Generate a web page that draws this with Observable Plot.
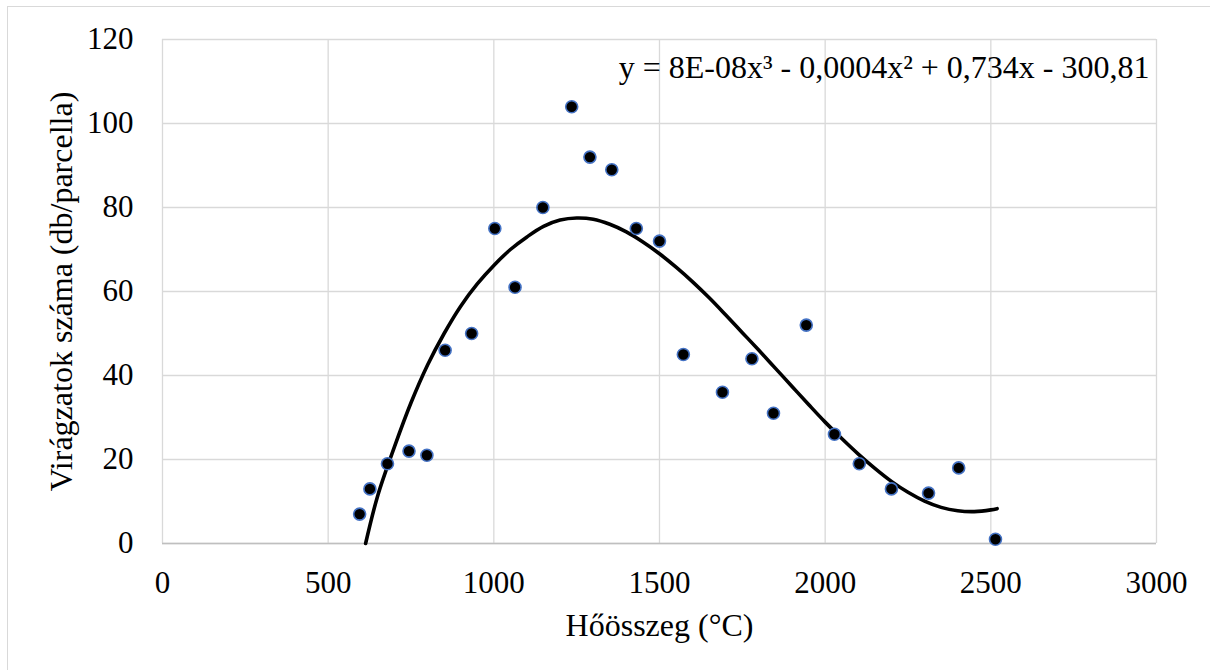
<!DOCTYPE html>
<html>
<head>
<meta charset="utf-8">
<script src="https://cdn.jsdelivr.net/npm/d3@7"></script>
<script src="https://cdn.jsdelivr.net/npm/@observablehq/plot@0.6"></script>
<style>
  body { margin: 0; background: #fff; font-family: "Liberation Serif", serif; }
  #border { position: fixed; left: 7px; top: 6px; width: 1300px; height: 800px; border: 1.5px solid #d9d9d9; pointer-events: none; }
</style>
</head>
<body>
<div id="chart"></div>
<div id="border"></div>
<script>
// Data
const heatSum = [595, 626, 679, 744, 798, 853, 933, 1003, 1064, 1148, 1235, 1290, 1356, 1430, 1500, 1572, 1690, 1779, 1844, 1943, 2028, 2103, 2200, 2312, 2403, 2514];
const inflorescences = [7, 13, 19, 22, 21, 46, 50, 75, 61, 80, 104, 92, 89, 75, 72, 45, 36, 44, 31, 52, 26, 19, 13, 12, 18, 1];

// Polynomial trendline as drawn in the reference
const trendX = [613, 650, 700, 750, 800, 850, 900, 950, 1000, 1050, 1100, 1150, 1200, 1250, 1300, 1350, 1400, 1450, 1500, 1550, 1600, 1650, 1700, 1750, 1800, 1850, 1900, 1950, 2000, 2050, 2100, 2150, 2200, 2250, 2300, 2350, 2400, 2450, 2500, 2519];
const trendY = [0, 11.5, 23, 33.5, 42.5, 50, 56.5, 61.8, 66.2, 70, 73, 75.5, 77, 77.5, 77.2, 76, 74.2, 71.8, 69, 65.8, 62.3, 58.5, 54.4, 50.2, 46, 41.7, 37.4, 33.1, 28.9, 25, 21.3, 17.9, 14.8, 12.2, 10.1, 8.6, 7.8, 7.6, 8, 8.3];

const xTicks = [0, 500, 1000, 1500, 2000, 2500, 3000];
const yTicks = [0, 20, 40, 60, 80, 100, 120];
const equation = "y = 8E-08x³ - 0,0004x² + 0,734x - 300,81";
const xLabel = "Hőösszeg (°C)";
const yLabel = "Virágzatok száma (db/parcella)";

const points = heatSum.map((x, i) => ({x, y: inflorescences[i]}));
const trend = trendX.map((x, i) => ({x, y: trendY[i]}));

const serif = "Liberation Serif";

const chart = Plot.plot({
  width: 1210,
  height: 670,
  marginLeft: 162,
  marginRight: 54,
  marginTop: 39,
  marginBottom: 127,
  style: { fontFamily: serif, fontSize: "31px" },
  x: { domain: [0, 3000] },
  y: { domain: [0, 120] },
  marks: [
    Plot.gridX(xTicks, { stroke: "#d9d9d9", strokeOpacity: 1, strokeWidth: 1.3 }),
    Plot.gridY(yTicks, { stroke: "#d9d9d9", strokeOpacity: 1, strokeWidth: 1.3 }),
    Plot.ruleY([0], { stroke: "#bfbfbf", strokeWidth: 1.6 }),
    Plot.axisX(xTicks, { tickSize: 0, tickPadding: 27, fontSize: 31, fontFamily: serif, label: null, tickFormat: d => String(d) }),
    Plot.axisY(yTicks, { tickSize: 0, tickPadding: 29, fontSize: 31, fontFamily: serif, label: null, tickFormat: d => String(d) }),
    Plot.text([xLabel], { text: d => d, frameAnchor: "bottom", dy: 82, fontSize: 32, fontFamily: serif, textAnchor: "middle", lineAnchor: "middle", fill: "#000" }),
    Plot.text([yLabel], { text: d => d, frameAnchor: "left", dx: -101, rotate: -90, fontSize: 32, fontFamily: serif, textAnchor: "middle", lineAnchor: "middle", fill: "#000" }),
    Plot.line(trend, { x: "x", y: "y", stroke: "#000", strokeWidth: 3.6, curve: "catmull-rom" }),
    Plot.dot(points, { x: "x", y: "y", r: 6, fill: "#000", stroke: "#4472c4", strokeWidth: 1.6 }),
    Plot.text([equation], { text: d => d, frameAnchor: "top-right", dx: -7, dy: 28, textAnchor: "end", lineAnchor: "middle", fontSize: 32, fontFamily: serif, fill: "#000" })
  ]
});

document.getElementById("chart").appendChild(chart);

// White label box behind the trendline equation
d3.select(chart).selectAll("text")
  .filter(function () { return this.textContent.includes("8E-08"); })
  .each(function () {
    const bb = this.getBBox();
    d3.select(this.parentNode).insert("rect", () => this)
      .attr("x", bb.x - 5)
      .attr("y", bb.y - 6)
      .attr("width", bb.width + 9)
      .attr("height", bb.height + 10)
      .attr("fill", "#fff");
  });
</script>
</body>
</html>
